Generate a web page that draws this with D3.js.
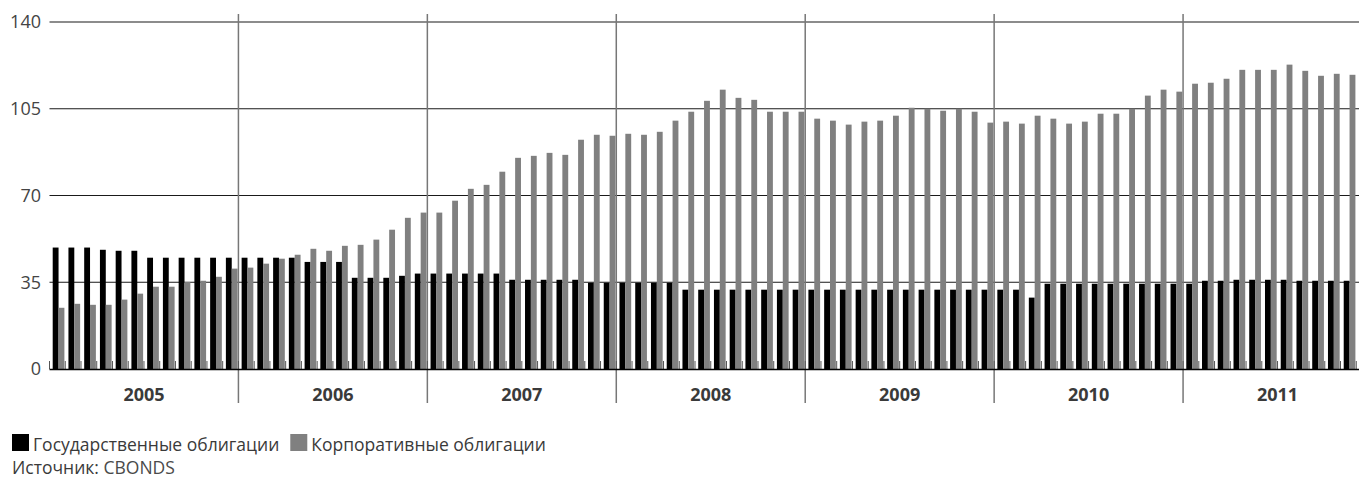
<!DOCTYPE html>
<html><head><meta charset="utf-8">
<script src="https://cdn.jsdelivr.net/npm/d3@7"></script>
<style>
body{margin:0;background:#fff;}
svg{display:block;font-family:"Open Sans","Noto Sans",sans-serif;}
</style>
</head><body>
<svg id="chart" width="1359" height="479"></svg>
<script>
// ---- data ----
const years = ["2005","2006","2007","2008","2009","2010","2011"];
const monthsOfYear = ["01","02","03","04","05","06","07","08","09","10","11","12"];
const yTicks = [0, 35, 70, 105, 140];
const seriesNames = ["Государственные облигации", "Корпоративные облигации"];
const govBonds = [
  49.0, 49.0, 49.0, 48.1, 47.7, 47.7, 44.9, 44.9, 44.9, 44.9, 44.9, 44.9,
  44.9, 44.9, 44.9, 44.9, 43.2, 43.2, 43.2, 36.8, 36.8, 36.8, 37.6, 38.5,
  38.5, 38.5, 38.5, 38.5, 38.5, 36.0, 36.0, 36.0, 36.0, 36.0, 34.8, 34.8,
  34.8, 34.8, 34.8, 34.8, 32.0, 32.0, 32.0, 32.0, 32.0, 32.0, 32.0, 32.0,
  32.0, 32.0, 32.0, 32.0, 32.0, 32.0, 32.0, 32.0, 32.0, 32.0, 32.0, 32.0,
  32.0, 32.0, 28.8, 34.4, 34.4, 34.4, 34.4, 34.4, 34.4, 34.4, 34.4, 34.4,
  34.4, 35.6, 35.6, 36.0, 36.0, 36.0, 36.0, 35.6, 35.6, 35.6, 35.6, 35.6
];
const corpBonds = [
  24.7, 26.3, 25.9, 25.9, 28.0, 30.4, 33.2, 33.2, 35.1, 35.6, 37.2, 40.5,
  40.9, 42.5, 44.5, 46.1, 48.5, 47.7, 49.7, 50.1, 52.2, 56.2, 61.0, 63.1,
  63.1, 67.9, 72.7, 74.3, 79.6, 85.2, 86.0, 87.2, 86.4, 92.5, 94.5, 94.1,
  94.9, 94.5, 95.7, 100.2, 103.8, 108.2, 112.7, 109.4, 108.6, 103.8, 103.8, 103.8,
  101.0, 100.2, 98.6, 99.8, 100.2, 102.2, 105.4, 105.0, 104.2, 105.0, 103.8, 99.4,
  99.8, 99.0, 102.2, 101.0, 99.0, 99.8, 103.0, 103.0, 105.0, 110.3, 112.7, 111.9,
  115.1, 115.5, 117.1, 120.7, 120.7, 120.7, 122.8, 120.3, 118.3, 119.1, 118.7, null
];
const sourceLabel = "Источник:";
const sourceName = "CBONDS";
const seriesColors = ["#000000", "#808080"];

// ---- layout ----
const svg = d3.select("#chart");
const months = years.flatMap(yr => monthsOfYear.map(m => yr + "-" + m));
const x = d3.scaleBand().domain(months).range([49.5, 1372]).padding(0);
const xs = d3.scaleBand().domain([0, 1]).range([3.2, 14.9]).padding(0);
const y = d3.scaleLinear().domain([0, 140]).range([369, 22]);
const textColor = "#3a3a3a";

// horizontal gridlines + y labels
const gy = svg.append("g");
gy.selectAll("line").data(yTicks.filter(t => t > 0)).join("line")
  .attr("x1", 49.5).attr("x2", 1372)
  .attr("y1", d => y(d)).attr("y2", d => y(d))
  .attr("stroke", "#1a1a1a").attr("stroke-width", 1.1);
gy.selectAll("text").data(yTicks).join("text")
  .attr("x", 41).attr("y", d => y(d)).attr("dy", "0.36em")
  .attr("text-anchor", "end").attr("font-size", 18).attr("fill", "#444")
  .text(d => d);

// year dividers
svg.append("g").selectAll("line").data(years.slice(1)).join("line")
  .attr("x1", d => x(d + "-01")).attr("x2", d => x(d + "-01"))
  .attr("y1", 14).attr("y2", 403)
  .attr("stroke", "#777").attr("stroke-width", 1.5);

// month ticks
svg.append("g").selectAll("line").data(months).join("line")
  .attr("x1", d => x(d)).attr("x2", d => x(d))
  .attr("y1", 361).attr("y2", 369)
  .attr("stroke", "#555").attr("stroke-width", 1);

// bars
const seriesData = [govBonds, corpBonds];
seriesData.forEach((vals, si) => {
  svg.append("g").selectAll("rect")
    .data(months.map((m, i) => ({m, v: vals[i]})).filter(d => d.v != null))
    .join("rect")
    .attr("x", d => x(d.m) + xs(si))
    .attr("width", xs.bandwidth())
    .attr("y", d => y(d.v))
    .attr("height", d => y(0) - y(d.v))
    .attr("fill", seriesColors[si]);
});

// baseline
svg.append("line").attr("x1", 49.5).attr("x2", 1372)
  .attr("y1", y(0) + 0.5).attr("y2", y(0) + 0.5)
  .attr("stroke", "#000").attr("stroke-width", 1.6);

// year labels
svg.append("g").selectAll("text").data(years).join("text")
  .attr("x", d => (x(d + "-01") + x(d + "-12") + x.bandwidth()) / 2)
  .attr("y", 401)
  .attr("text-anchor", "middle").attr("font-size", 18).attr("font-weight", "bold")
  .attr("fill", textColor).text(d => d);

// legend
const lg = svg.append("g");
let lx = 12;
seriesNames.forEach((name, i) => {
  lg.append("rect").attr("x", lx).attr("y", 434).attr("width", 17).attr("height", 17)
    .attr("fill", seriesColors[i]);
  const t = lg.append("text").attr("x", lx + 21).attr("y", 451)
    .attr("font-size", 17.5).attr("fill", textColor).text(name);
  lx = lx + 21 + t.node().getComputedTextLength() + 11;
});

// source
const src = svg.append("text").attr("x", 12).attr("y", 474)
  .attr("font-size", 17.5).attr("fill", textColor);
src.append("tspan").text(sourceLabel + " ");
src.append("tspan").attr("fill", "#4a4a4a").text(sourceName);
</script>
</body></html>
